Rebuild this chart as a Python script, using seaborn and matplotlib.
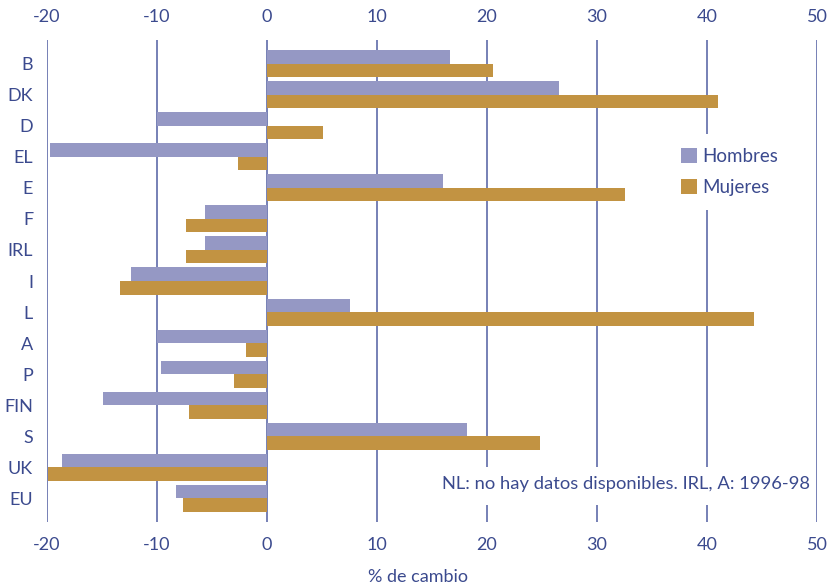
import numpy as np
import pandas as pd
import matplotlib
matplotlib.use("Agg")
import matplotlib.pyplot as plt
import seaborn as sns
from matplotlib.patches import Patch, Rectangle

# ---- data ----
countries = ["B", "DK", "D", "EL", "E", "F", "IRL", "I", "L", "A", "P", "FIN", "S", "UK", "EU"]
hombres = [16.6, 26.5, -10.0, -19.7, 16.0, -5.6, -5.6, -12.4, 7.5, -10.0, -9.6, -14.9, 18.2, -18.6, -8.3]
mujeres = [20.5, 41.0, 5.1, -2.6, 32.5, -7.4, -7.4, -13.4, 44.3, -1.9, -3.0, -7.1, 24.8, -19.9, -7.6]
series = ["Hombres", "Mujeres"]
xticks = [-20, -10, 0, 10, 20, 30, 40, 50]
note = "NL: no hay datos disponibles. IRL, A: 1996-98"
xlabel = "% de cambio"

# ---- style ----
c_h = "#9598c4"
c_m = "#c29342"
txt = "#3b4a8e"
grid_c = "#6b76b0"

sns.set_theme(style="white")
plt.rcParams['font.family'] = ['Lato', 'DejaVu Sans']

W, H = 831, 585
fig = plt.figure(figsize=(W / 100, H / 100), dpi=100)
ax = fig.add_axes([47 / W, 1 - 522 / H, 770 / W, 482 / H])

df = pd.DataFrame({
    "pais": countries * 2,
    "valor": hombres + mujeres,
    "sexo": [series[0]] * len(countries) + [series[1]] * len(countries),
})
sns.barplot(data=df, y="pais", x="valor", hue="sexo", orient="h",
            order=countries, hue_order=series, palette=[c_h, c_m],
            width=0.87, saturation=1, linewidth=0, errorbar=None,
            legend=False, ax=ax, zorder=2)

ax.set_xlim(-20, 50)
ax.set_ylim(14.76, -0.76)
ax.set_xticks(xticks)
ax.set_xticklabels([str(t) for t in xticks])
for s in ax.spines.values():
    s.set_visible(False)
ax.grid(False)
for t in xticks:
    ax.axvline(t, color=grid_c, lw=1.3, zorder=1)

ax.tick_params(axis='x', top=True, labeltop=True, bottom=True, labelbottom=True,
               length=0, labelsize=13, labelcolor=txt, pad=11)
ax.tick_params(axis='y', length=0, labelsize=13, labelcolor=txt, pad=10)
ax.set_xlabel("")
ax.set_ylabel("")

fig.text(418 / W, 1 - 577 / H, xlabel, ha='center', va='center', fontsize=13, color=txt)

# legend
handles = [Patch(facecolor=c_h, edgecolor='none'), Patch(facecolor=c_m, edgecolor='none')]
leg = ax.legend(handles, series, loc='center left',
                bbox_to_anchor=(667 / W, 1 - 172 / H), bbox_transform=fig.transFigure,
                frameon=True, facecolor='white', edgecolor='none', framealpha=1,
                fontsize=13.5, handlelength=0.85, handleheight=0.85, handletextpad=0.3,
                labelspacing=0.7, borderpad=0.75, borderaxespad=0)
for t in leg.get_texts():
    t.set_color(txt)
leg.set_zorder(5)

# note with white background
fig.add_artist(Rectangle((436 / W, 1 - 505 / H), (814 - 436) / W, 38 / H,
                         transform=fig.transFigure, facecolor='white', edgecolor='none', zorder=3))
fig.text(442 / W, 1 - 484 / H, note, ha='left', va='center', fontsize=13.2, color=txt, zorder=4)

fig.savefig("out.png", dpi=100)
